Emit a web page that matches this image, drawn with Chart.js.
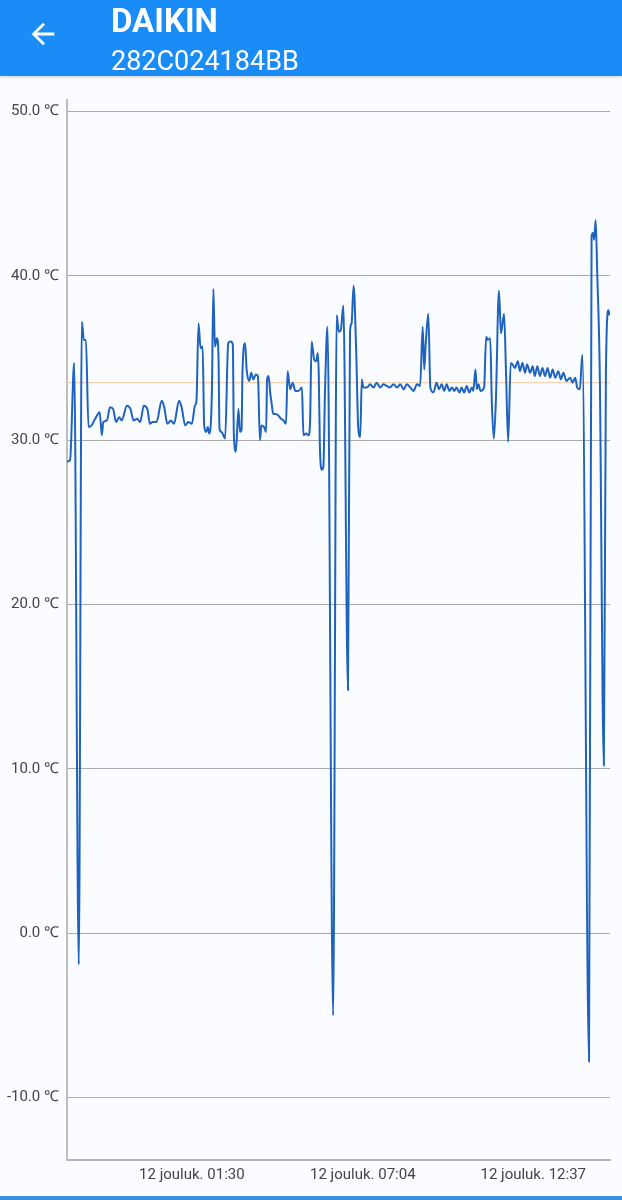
<!DOCTYPE html>
<html>
<head>
<meta charset="utf-8">
<script src="https://cdn.jsdelivr.net/npm/chart.js@4.4.1/dist/chart.umd.min.js"></script>
<style>
  html, body { margin: 0; padding: 0; }
  body { width: 622px; height: 1200px; background: #fafcff; font-family: Roboto, "Noto Sans", sans-serif; position: relative; overflow: hidden; }
  .top-bar { position: absolute; left: 0; top: 0; width: 622px; height: 76px; background: #1a8cf8; color: #fff; box-shadow: 0 1px 3px rgba(0,0,0,0.18); z-index: 2; }
  .top-bar svg { position: absolute; left: 26px; top: 17px; }
  .title { position: absolute; left: 111px; top: 1px; font-size: 33px; font-weight: 700; line-height: 40px; }
  .subtitle { position: absolute; left: 111px; top: 45px; font-size: 27px; line-height: 32px; }
  #chartWrap { position: absolute; left: 0; top: 76px; width: 622px; height: 1118px; }
  .bottom-line { position: absolute; left: 0; top: 1196px; width: 622px; height: 4px; background: #3d8fe0; }
</style>
</head>
<body>
<div class="top-bar">
  <svg width="34" height="34" viewBox="0 0 24 24"><path fill="#fff" d="M20 11H7.83l5.59-5.59L12 4l-8 8 8 8 1.41-1.41L7.83 13H20v-2z"/></svg>
  <div class="title">DAIKIN</div>
  <div class="subtitle">282C024184BB</div>
</div>
<div id="chartWrap"><canvas id="tempChart" width="622" height="1118"></canvas></div>
<div class="bottom-line"></div>
<script>
// minutes relative to 12 Dec 00:00
const times = [
  -154, -148, -140, -131, -125, -121, -117, -112, -106, -99, -90, -86, -83, -76, -70, -64, -58, -52, -47,
  -37, -30, -24, -17, -11, -4, 3, 8, 13, 21, 31, 36, 42, 49, 55, 65, 70, 77, 83, 90, 96, 99,
  103, 107, 111, 114, 118, 121, 124, 129, 132, 135, 139, 142, 144, 148, 155, 161, 166, 170, 172, 176,
  181, 184, 187, 189, 194, 197, 202, 206, 210, 215, 219, 223, 226, 231, 235, 237, 240, 243, 246, 249,
  254, 259, 264, 269, 274, 277, 282, 287, 292, 298, 305, 308, 313, 318, 321, 324, 329, 333, 336, 338,
  340, 344, 347, 350, 355, 366, 373, 377, 381, 386, 395, 399, 402, 406, 411, 415, 419, 422, 425,
  432, 438, 445, 451, 458, 464, 471, 477, 484, 491, 497, 504, 510, 517, 523, 530, 536,
  541, 544, 547, 552, 556, 562, 568, 573,
  578, 583, 588, 593, 598, 603, 607, 613, 617, 622, 627, 632, 637, 640, 644, 647, 650, 654, 661,
  665, 668, 673, 676, 680, 684, 690, 694, 700, 704, 708, 713,
  717, 721, 727, 731, 736, 741, 745, 751, 756, 760, 765, 770, 775, 780, 785, 790, 795, 800, 806, 811,
  816, 822, 829, 834, 839, 843, 848, 853,
  866, 871, 874, 876, 879, 882, 887, 895, 899, 904, 906,
];
const temps = [
  28.7, 28.8, 34.7, -1.9, 37.2, 36.1, 36.1, 30.8, 30.9, 31.3, 31.7, 30.3, 31.1, 31.2, 32.0, 31.9, 31.1, 31.4, 31.2,
  32.1, 31.9, 31.2, 31.3, 31.1, 32.1, 31.9, 31.0, 31.1, 31.1, 32.4, 32.0, 31.0, 31.2, 31.0, 32.4, 32.0, 30.9, 31.1, 31.0, 32.1, 32.4,
  37.1, 35.6, 35.7, 30.9, 30.5, 30.8, 30.4, 32.8, 39.2, 35.7, 36.2, 35.1, 30.7, 30.5, 30.1, 35.9, 36.0, 35.8, 30.4, 29.3,
  31.9, 30.5, 30.6, 34.3, 35.9, 34.3, 33.6, 34.1, 33.7, 34.0, 33.9, 30.0, 30.9, 30.8, 30.5, 33.7, 33.9, 32.9, 32.2, 31.6,
  31.6, 31.5, 31.3, 31.2, 31.0, 34.2, 33.1, 33.5, 33.0, 33.0, 33.2, 30.3, 30.4, 30.3, 31.2, 36.0, 34.9, 34.8, 35.3, 33.9,
  29.8, 28.2, 28.4, 32.8, 36.9, -5.0, 37.6, 36.6, 36.7, 38.2, 14.8, 36.6, 37.1, 39.4, 35.5, 30.8, 30.2, 33.7, 33.2,
  33.2, 33.4, 33.2, 33.5, 33.2, 33.4, 33.3, 33.2, 33.4, 33.2, 33.4, 33.1, 33.4, 33.2, 33.0, 33.4, 33.3,
  36.9, 34.3, 35.9, 37.7, 33.2, 32.9, 33.5, 33.1,
  33.4, 33.0, 33.4, 33.0, 33.2, 33.0, 33.2, 32.9, 33.2, 32.9, 33.3, 32.9, 33.2, 33.0, 34.3, 33.1, 33.4, 33.0, 33.2,
  36.3, 36.1, 36.2, 32.4, 30.1, 32.4, 39.1, 36.5, 37.7, 33.9, 29.9, 34.7,
  34.6, 34.4, 34.8, 34.2, 34.7, 34.1, 34.6, 34.1, 34.5, 33.9, 34.5, 33.9, 34.4, 33.9, 34.4, 33.8, 34.3, 33.8, 34.2, 33.7,
  34.1, 33.6, 33.8, 33.5, 33.8, 33.2, 33.1, 35.2,
  -7.8, 42.4, 42.6, 42.2, 43.4, 40.2, 34.1, 10.2, 34.1, 37.9, 37.6,
];
const averageTemp = 33.5;
const timeMin = -154;
const timeMax = 907;
const tempMin = -13.8;
const tempMax = 50.7;
const yTicks = [-10, 0, 10, 20, 30, 40, 50];
const xTicks = [90, 424, 757];
const xTickLabels = ["12 jouluk. 01:30", "12 jouluk. 07:04", "12 jouluk. 12:37"];

const points = times.map((t, i) => ({ x: t, y: temps[i] }));

new Chart(document.getElementById("tempChart"), {
  type: "line",
  data: {
    datasets: [
      {
        data: points,
        borderColor: "#1e63c0",
        borderWidth: 2,
        pointRadius: 0,
        fill: false,
        cubicInterpolationMode: "monotone",
      },
      {
        data: [{ x: timeMin, y: averageTemp }, { x: timeMax, y: averageTemp }],
        borderColor: "#f3d3ae",
        borderWidth: 1.2,
        pointRadius: 0,
        fill: false,
      },
    ],
  },
  options: {
    responsive: false,
    animation: false,
    devicePixelRatio: 1,
    layout: { padding: { top: 24, right: 12, left: 0, bottom: 0 } },
    plugins: { legend: { display: false }, tooltip: { enabled: false } },
    scales: {
      x: {
        type: "linear",
        min: timeMin,
        max: timeMax,
        afterBuildTicks: (scale) => { scale.ticks = xTicks.map((v) => ({ value: v })); },
        afterFit: (scale) => { scale.height = 34; },
        grid: { display: false, drawTicks: false },
        border: { display: true, color: "#b4b4b4", width: 2 },
        ticks: {
          autoSkip: false,
          maxRotation: 0,
          padding: 6,
          color: "#444",
          font: { family: "Roboto", size: 15 },
          callback: (v) => xTickLabels[xTicks.indexOf(v)] || "",
        },
      },
      y: {
        min: tempMin,
        max: tempMax,
        afterBuildTicks: (scale) => { scale.ticks = yTicks.map((v) => ({ value: v })); },
        afterFit: (scale) => { scale.width = 67; },
        grid: { color: "#ababab", lineWidth: 1, drawTicks: false },
        border: { display: true, color: "#bdbdbd", width: 2 },
        ticks: {
          padding: 8,
          color: "#444",
          font: { family: "Roboto", size: 15 },
          callback: (v) => `${v.toFixed(1)} ℃`,
        },
      },
    },
  },
});
</script>
</body>
</html>
